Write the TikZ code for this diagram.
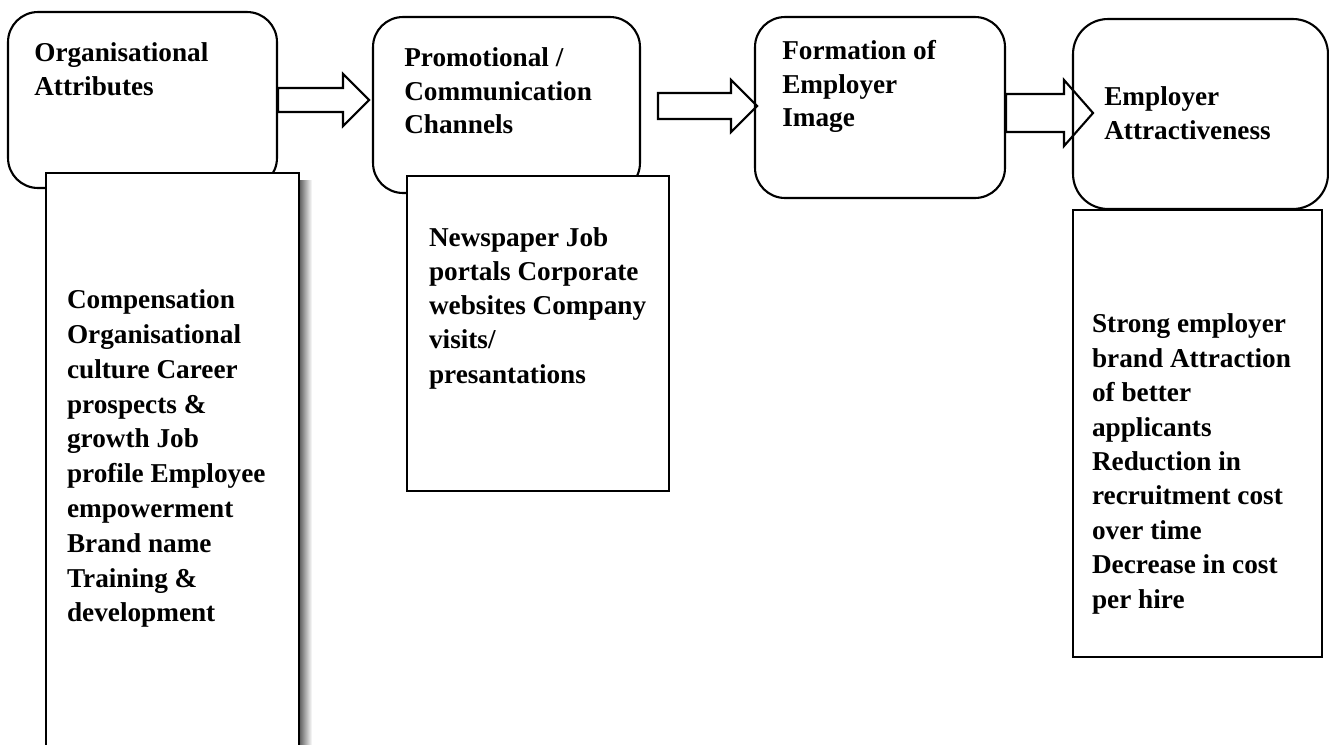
\documentclass[tikz,border=0pt]{standalone}
\usepackage{fontspec}
\setmainfont{Liberation Serif}
\usetikzlibrary{calc}

\begin{document}
\begin{tikzpicture}[x=0.02cm, y=-0.02cm,
    stage/.style={draw, line width=1.2pt, rounded corners=0.6cm, inner sep=0pt},
    listbox/.style={draw, fill=white, line width=1.5pt, inner sep=0pt},
    blockarrow/.style={draw, line width=1.2pt, line join=miter},
    headtext/.style={anchor=base west, inner sep=0pt, text width=6cm, align=flush left,
        font=\bfseries\fontsize{15.5}{19}\selectfont},
    listtext/.style={headtext, font=\bfseries\fontsize{15.5}{19.8}\selectfont}]
    \clip (0,0) rectangle (1329,744);

    % stages
    \node[stage, minimum width=5.38cm, minimum height=3.52cm] (org) at (142.5,100) {};
    \node[stage, minimum width=5.34cm, minimum height=3.52cm] (promo) at (506.5,105) {};
    \node[stage, minimum width=5.0cm, minimum height=3.62cm] (image) at (880,107.5) {};
    \node[stage, rounded corners=0.7cm, minimum width=5.1cm, minimum height=3.8cm] (attract) at (1200.5,114) {};

    % block arrows between the stages
    \draw[blockarrow] (org.east) ++(0,-12) -- ++(65,0) -- ++(0,-14) -- ++(26,26)
        -- ++(-26,26) -- ++(0,-14) -- ++(-65,0) -- cycle;
    \draw[blockarrow] (promo.east) ++(17,-12) -- ++(73,0) -- ++(0,-13) -- ++(26,26)
        -- ++(-26,26) -- ++(0,-13) -- ++(-73,0) -- cycle;
    \draw[blockarrow] (image.east) ++(0,-13.5) -- ++(58,0) -- ++(0,-14) -- ++(29,33)
        -- ++(-29,33) -- ++(0,-14) -- ++(-58,0) -- cycle;

    % lists under the stages
    \shade[left color=black!60, right color=white] (300,180) rectangle (312,770);
    \node[listbox, minimum width=5.06cm, minimum height=11.74cm] (orglist) at (172.5,466.5) {};
    \node[listbox, minimum width=5.24cm, minimum height=6.3cm] (promolist) at (538,333.5) {};
    \node[listbox, minimum width=4.98cm, minimum height=8.94cm] (attractlist) at (1197.5,433.5) {};

    % texts
    \node[headtext] (orgtitle) at ($(org.north west)+(27,51)$) {Organisational\\Attributes};
    \node[headtext] (promotitle) at ($(promo.north west)+(32,51)$) {Promotional /\\Communication\\Channels};
    \node[headtext] (imagetitle) at ($(image.north west)+(28,44)$) {Formation of\\Employer\\Image};
    \node[headtext] (attracttitle) at ($(attract.north west)+(32,88)$) {Employer\\Attractiveness};

    \node[listtext] (orgitems) at ($(orglist.north west)+(22,137)$) {Compensation\\Organisational\\culture Career\\prospects \&\\growth Job\\profile Employee\\empowerment\\Brand name\\Training \&\\development};
    \node[listtext, font=\bfseries\fontsize{15.5}{19.4}\selectfont] (promoitems) at ($(promolist.north west)+(23,72)$) {Newspaper Job\\portals Corporate\\websites Company\\visits/\\presantations};
    \node[listtext, font=\bfseries\fontsize{15.5}{19.6}\selectfont] (attractitems) at ($(attractlist.north west)+(20,124)$) {Strong employer\\brand Attraction\\of better\\applicants\\Reduction in\\recruitment cost\\over time\\Decrease in cost\\per hire};
\end{tikzpicture}
\end{document}
